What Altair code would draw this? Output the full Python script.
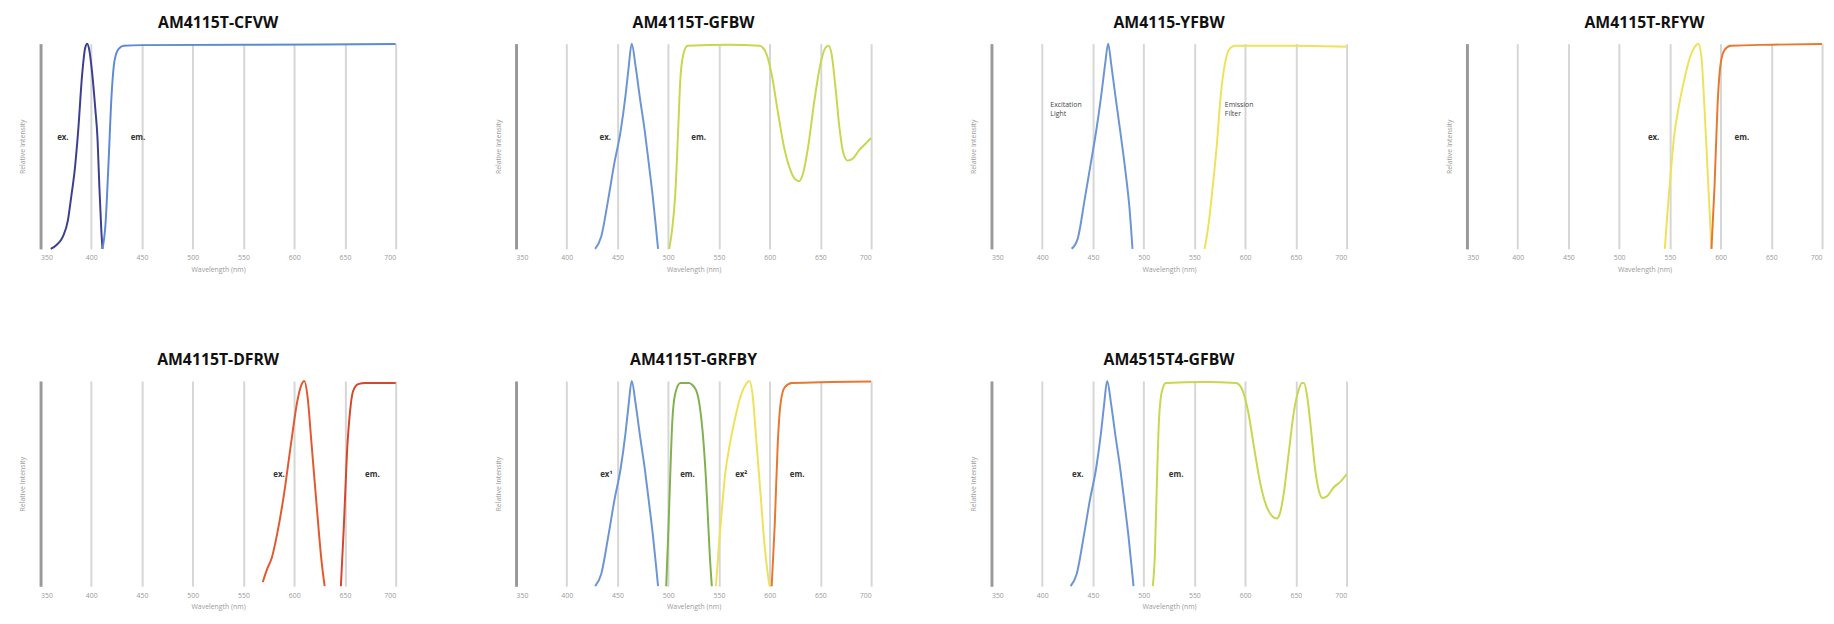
import altair as alt
import pandas as pd

# ---------------- data ----------------
TITLES = ["AM4115T-CFVW", "AM4115T-GFBW", "AM4115-YFBW", "AM4115T-RFYW",
          "AM4115T-DFRW", "AM4115T-GRFBY", "AM4515T4-GFBW"]
WAVE_TICKS = [350, 400, 450, 500, 550, 600, 650, 700]

# CFVW
cfvw_ex_nm = [360, 366, 372, 377, 380, 384, 387, 391, 394, 396, 398, 401, 404, 406, 408, 410, 411]
cfvw_ex_val = [0, 0.02, 0.06, 0.14, 0.245, 0.4, 0.57, 0.85, 0.98, 1.0, 0.97, 0.85, 0.68, 0.55, 0.3, 0.08, 0]
cfvw_em_nm = [411, 414, 417, 420, 423, 427, 432, 450, 550, 700]
cfvw_em_val = [0, 0.12, 0.42, 0.75, 0.92, 0.975, 0.99, 0.993, 0.995, 0.998]

# GFBW
gfbw_ex_nm = [428, 434, 441, 447, 453, 458, 461, 464, 468, 472, 477, 481, 485, 488, 490]
gfbw_ex_val = [0, 0.06, 0.245, 0.42, 0.57, 0.75, 0.885, 1.0, 0.885, 0.74, 0.57, 0.41, 0.245, 0.1, 0]
gfbw_em_nm = [501, 504, 507, 510, 512, 515, 519, 560, 590, 596, 602, 608, 614, 620, 625, 629, 633,
              638, 644, 650, 655, 658, 661, 665, 669, 673, 677, 682, 688, 694, 700]
gfbw_em_val = [0, 0.1, 0.27, 0.6, 0.83, 0.95, 0.99, 0.995, 0.99, 0.96, 0.85, 0.67, 0.5, 0.39, 0.34,
               0.33, 0.37, 0.5, 0.72, 0.9, 0.98, 0.99, 0.95, 0.78, 0.58, 0.46, 0.43, 0.44, 0.48, 0.51, 0.54]

# YFBW
yfbw_ex_nm = [429, 435, 442, 448, 454, 459, 462, 465, 468, 472, 477, 482, 486, 489]
yfbw_ex_val = [0, 0.05, 0.245, 0.42, 0.6, 0.78, 0.9, 1.0, 0.9, 0.75, 0.57, 0.38, 0.2, 0]
yfbw_em_nm = [560, 564, 568, 572, 576, 580, 584, 590, 650, 700]
yfbw_em_val = [0, 0.12, 0.3, 0.5, 0.75, 0.9, 0.97, 0.99, 0.99, 0.985]

# RFYW
rfyw_ex_nm = [545, 548, 551, 554, 559, 564, 569, 574, 578, 581, 584, 587, 590, 591]
rfyw_ex_val = [0, 0.2, 0.38, 0.54, 0.7, 0.82, 0.92, 0.98, 1.0, 0.94, 0.7, 0.4, 0.1, 0]
rfyw_em_nm = [591, 594, 597, 600, 604, 610, 650, 700]
rfyw_em_val = [0, 0.3, 0.7, 0.9, 0.97, 0.99, 0.995, 0.998]

# DFRW
dfrw_ex_nm = [569, 573, 578, 583, 590, 597, 603, 607, 610, 613, 617, 622, 627, 630]
dfrw_ex_val = [0.02, 0.08, 0.14, 0.25, 0.45, 0.7, 0.9, 0.98, 1.0, 0.93, 0.7, 0.4, 0.12, 0]
dfrw_em_nm = [646, 649, 652, 655, 658, 663, 670, 700]
dfrw_em_val = [0, 0.3, 0.65, 0.85, 0.95, 0.985, 0.99, 0.99]

# GRFBY
grfby_ex1_nm = [428, 434, 441, 447, 453, 458, 461, 464, 468, 472, 477, 481, 485, 488, 490]
grfby_ex1_val = [0, 0.06, 0.245, 0.42, 0.57, 0.75, 0.885, 1.0, 0.885, 0.74, 0.57, 0.41, 0.245, 0.1, 0]
grfby_em1_nm = [498, 500, 502, 504, 507, 512, 520, 527, 531, 534, 537, 539, 541, 543]
grfby_em1_val = [0, 0.25, 0.54, 0.8, 0.94, 0.99, 0.99, 0.96, 0.88, 0.75, 0.54, 0.35, 0.15, 0]
grfby_ex2_nm = [547, 550, 553, 556, 561, 566, 571, 576, 580, 583, 587, 591, 595, 599, 600]
grfby_ex2_val = [0, 0.2, 0.38, 0.54, 0.7, 0.82, 0.92, 0.98, 1.0, 0.94, 0.7, 0.45, 0.2, 0.03, 0]
grfby_em2_nm = [602, 605, 608, 611, 615, 622, 660, 700]
grfby_em2_val = [0, 0.3, 0.7, 0.9, 0.97, 0.99, 0.995, 0.998]

# AM4515T4-GFBW
t4_ex_nm = [428, 434, 441, 447, 453, 458, 461, 464, 468, 472, 477, 481, 485, 488, 490]
t4_ex_val = [0, 0.06, 0.245, 0.42, 0.57, 0.75, 0.885, 1.0, 0.885, 0.74, 0.57, 0.41, 0.245, 0.1, 0]
t4_em_nm = [509, 511, 513, 515, 518, 522, 560, 591, 597, 603, 609, 615, 621, 627, 631, 634, 638,
            643, 648, 653, 656, 658, 661, 665, 669, 673, 676, 681, 687, 694, 700]
t4_em_val = [0, 0.15, 0.5, 0.8, 0.95, 0.99, 0.995, 0.99, 0.96, 0.85, 0.67, 0.5, 0.39, 0.34, 0.33,
             0.35, 0.45, 0.65, 0.85, 0.96, 0.99, 0.99, 0.93, 0.76, 0.57, 0.46, 0.43, 0.44, 0.48, 0.51, 0.545]

# curves: (panel index, series key, nm, values)
CURVES = [
    (0, "navy", cfvw_ex_nm, cfvw_ex_val),
    (0, "cornflower", cfvw_em_nm, cfvw_em_val),
    (1, "blue", gfbw_ex_nm, gfbw_ex_val),
    (1, "lime", gfbw_em_nm, gfbw_em_val),
    (2, "blue", yfbw_ex_nm, yfbw_ex_val),
    (2, "yellow", yfbw_em_nm, yfbw_em_val),
    (3, "yellow", rfyw_ex_nm, rfyw_ex_val),
    (3, "orange", rfyw_em_nm, rfyw_em_val),
    (4, "redorange", dfrw_ex_nm, dfrw_ex_val),
    (4, "red", dfrw_em_nm, dfrw_em_val),
    (5, "blue", grfby_ex1_nm, grfby_ex1_val),
    (5, "green", grfby_em1_nm, grfby_em1_val),
    (5, "yellow", grfby_ex2_nm, grfby_ex2_val),
    (5, "orange", grfby_em2_nm, grfby_em2_val),
    (6, "blue", t4_ex_nm, t4_ex_val),
    (6, "lime", t4_em_nm, t4_em_val),
]

# bold curve labels
label_panel = [0, 0, 1, 1, 3, 3, 4, 4, 5, 5, 5, 5, 6, 6]
label_nm = [372, 446, 438, 530, 534, 621, 585, 677, 439, 519, 572, 627, 435, 532]
label_val = [0.54] * 14
label_text = ["ex.", "em.", "ex.", "em.", "ex.", "em.", "ex.", "em.",
              "ex¹", "em.", "ex²", "em.", "ex.", "em."]

# plain notes (panel 3)
note_panel = [2, 2, 2, 2]
note_nm = [408, 408, 580, 580]
note_val = [0.70, 0.655, 0.70, 0.655]
note_text = ["Excitation", "Light", "Emission", "Filter"]

# ---------------- styles ----------------
COLORS = {
    "navy": "#3b3f8e",
    "cornflower": "#5d8ad4",
    "blue": "#6b95d3",
    "lime": "#c8d74e",
    "yellow": "#efe25a",
    "orange": "#e8782f",
    "redorange": "#e2592f",
    "red": "#d5462b",
    "green": "#80b14d",
}

rows = []
for ci, (p, key, nms, vals) in enumerate(CURVES):
    for n, v in zip(nms, vals):
        rows.append({"panel": p, "curve": ci, "series": key, "nm": n, "val": v})
df = pd.DataFrame(rows)
lab = pd.DataFrame({"panel": label_panel, "nm": label_nm, "val": label_val, "text": label_text})
notes = pd.DataFrame({"panel": note_panel, "nm": note_nm, "val": note_val, "text": note_text})

W, H = 360, 208
FONT = "Open Sans"

def panel(i):
    x = alt.X("nm:Q", scale=alt.Scale(domain=[350, 700], nice=False, zero=False),
              axis=alt.Axis(values=WAVE_TICKS, title="Wavelength (nm)", grid=True,
                            gridColor="#d6d6d6", gridWidth=2, domain=False, ticks=False,
                            labelFontSize=7, labelColor="#9a9a9a", labelFont=FONT,
                            titleFontSize=7, titleColor="#9a9a9a", titleFont=FONT,
                            titleFontWeight="normal", labelPadding=5, titlePadding=5))
    y = alt.Y("val:Q", scale=alt.Scale(domain=[0, 1], nice=False),
              axis=alt.Axis(labels=False, ticks=False, grid=False, domainColor="#9a9a9a",
                            domainWidth=3, title="Relative Intensity", titleFontSize=7,
                            titleColor="#9a9a9a", titleFont=FONT, titleFontWeight="normal",
                            titlePadding=15))
    lines = alt.Chart(df[df.panel == i]).mark_line(
        interpolate="monotone", strokeWidth=2
    ).encode(
        x=x, y=y,
        color=alt.Color("series:N", scale=alt.Scale(domain=list(COLORS.keys()),
                                                   range=list(COLORS.values())), legend=None),
        detail="curve:N",
    )
    layers = [lines]
    li = lab[lab.panel == i]
    if len(li):
        layers.append(alt.Chart(li).mark_text(fontSize=8, fontWeight="bold", color="#333",
                                              font=FONT).encode(
            x=alt.X("nm:Q"), y=alt.Y("val:Q"), text="text:N"))
    ni = notes[notes.panel == i]
    if len(ni):
        layers.append(alt.Chart(ni).mark_text(fontSize=7, color="#444", align="left",
                                              font=FONT).encode(
            x=alt.X("nm:Q"), y=alt.Y("val:Q"), text="text:N"))
    return alt.layer(*layers).properties(
        width=W, height=H,
        title=alt.TitleParams(TITLES[i], fontSize=16, font=FONT, fontWeight="bold",
                              color="#111", anchor="middle", offset=9),
    )

row1 = alt.hconcat(*[panel(i) for i in range(4)], spacing=96)
row2 = alt.hconcat(*[panel(i) for i in range(4, 7)], spacing=96)
chart = alt.vconcat(row1, row2, spacing=81).properties(
    padding={"left": 11, "top": 3, "right": 0, "bottom": 0}
).configure_view(stroke=None)

chart.save("out.html", embed_options={"renderer": "svg", "actions": False})
